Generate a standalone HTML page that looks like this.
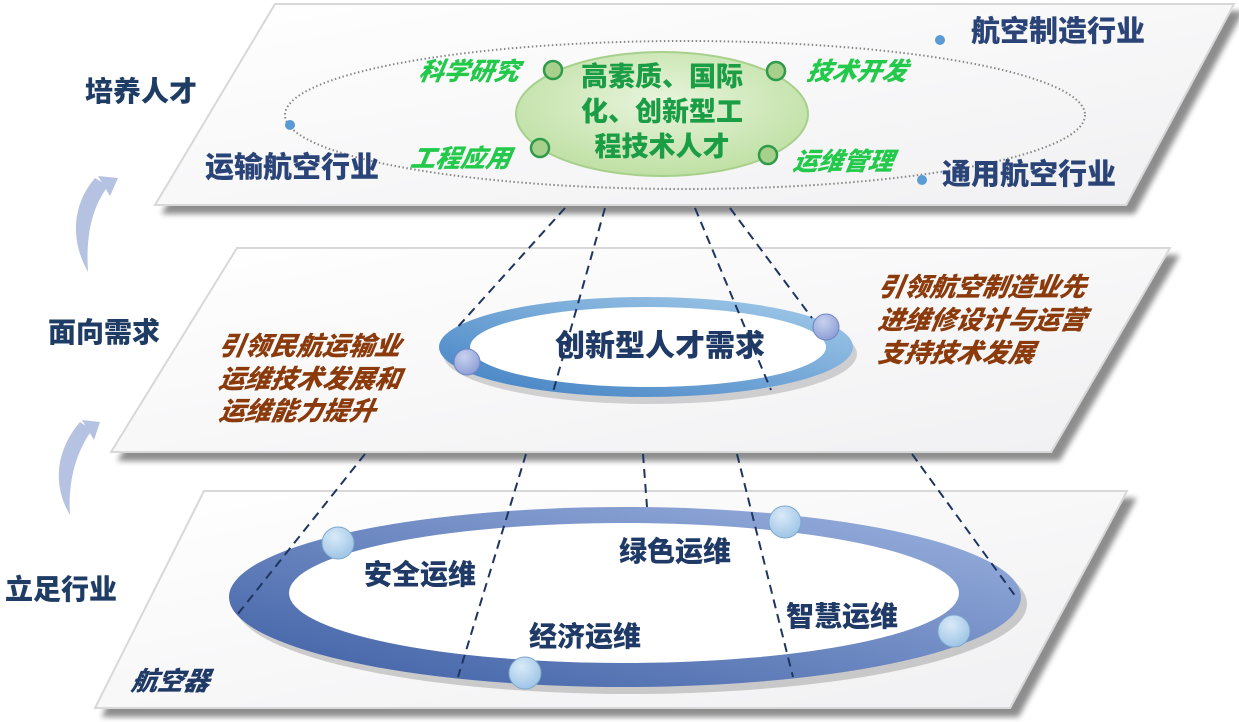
<!DOCTYPE html>
<html><head><meta charset="utf-8"><style>
html,body{margin:0;padding:0;background:#fff;}
body{width:1239px;height:722px;overflow:hidden;position:relative;}
svg{position:absolute;left:0;top:0;}
text{font-family:"Liberation Sans","Noto Sans CJK SC",sans-serif;font-weight:900;}
</style></head><body>
<svg width="1239" height="722" viewBox="0 0 1239 722">
<defs>
<filter id="sh" x="-5%" y="-5%" width="115%" height="125%"><feGaussianBlur in="SourceAlpha" stdDeviation="3"/><feOffset dx="8" dy="8"/><feComponentTransfer><feFuncA type="linear" slope="0.45"/></feComponentTransfer><feMerge><feMergeNode/><feMergeNode in="SourceGraphic"/></feMerge></filter>
<linearGradient id="pl" x1="0" y1="0" x2="1" y2="1"><stop offset="0" stop-color="#ffffff"/><stop offset="1" stop-color="#f0f0f2"/></linearGradient>
<linearGradient id="r1" x1="0" y1="1" x2="1" y2="0"><stop offset="0" stop-color="#3f7fc2"/><stop offset="1" stop-color="#a6cdeb"/></linearGradient>
<linearGradient id="r2" x1="0" y1="1" x2="1" y2="0"><stop offset="0" stop-color="#3d5ea3"/><stop offset="1" stop-color="#9db3e0"/></linearGradient>
<radialGradient id="gr" cx="0.5" cy="0.4" r="0.6"><stop offset="0" stop-color="#e8f4dc"/><stop offset="1" stop-color="#bfe0a4"/></radialGradient>
<radialGradient id="bd" cx="0.4" cy="0.3" r="0.7"><stop offset="0" stop-color="#d9eaf8"/><stop offset="1" stop-color="#9fc5e6"/></radialGradient>
<radialGradient id="bd2" cx="0.4" cy="0.3" r="0.7"><stop offset="0" stop-color="#c9d2ef"/><stop offset="1" stop-color="#8e9fd6"/></radialGradient>
</defs>
<path d="M88,272 C70,240 72,205 95,178 L108,186 C90,210 86,240 88,272 Z" fill="#b6c2e2"/>
<path d="M98,176 L118,178 L110,196 Z" fill="#b6c2e2"/>
<path d="M70,515 C52,485 56,450 80,422 L92,430 C74,455 68,485 70,515 Z" fill="#b6c2e2"/>
<path d="M82,420 L100,422 L94,440 Z" fill="#b6c2e2"/>
<polygon points="204,491 1127,491 1010,708 95,708" fill="url(#pl)" stroke="#d8d8d8" stroke-width="2" filter="url(#sh)"/>
<polygon points="237,248 1170,248 1051,452 111,452" fill="url(#pl)" stroke="#d8d8d8" stroke-width="2" filter="url(#sh)"/>
<polygon points="275,4 1234,4 1126,205 155,205" fill="url(#pl)" stroke="#d8d8d8" stroke-width="2" filter="url(#sh)"/>
<ellipse cx="685" cy="115" rx="400" ry="74" fill="none" stroke="#888" stroke-width="2" stroke-dasharray="1.5 2.5"/>
<circle cx="290" cy="125" r="5" fill="#5b9bd5"/><circle cx="940" cy="40" r="5" fill="#5b9bd5"/><circle cx="922" cy="180" r="5" fill="#5b9bd5"/>
<ellipse cx="662" cy="114" rx="146" ry="62" fill="url(#gr)" stroke="#a8d08d" stroke-width="2"/>
<g fill="#a8d08d" stroke="#2e9a4a" stroke-width="2.5"><circle cx="553" cy="70" r="9"/><circle cx="776" cy="71" r="9"/><circle cx="540" cy="148" r="9"/><circle cx="768" cy="155" r="9"/></g>
<g fill="#1a9d45" font-size="27" text-anchor="middle"><text x="662" y="86">高素质、国际</text><text x="662" y="121">化、创新型工</text><text x="662" y="156">程技术人才</text></g>
<g fill="#22c94a" font-size="25" font-style="italic"><text x="418" y="80" transform="skewX(-10) translate(14,0)">科学研究</text><text x="806" y="80" transform="skewX(-10) translate(14,0)">技术开发</text><text x="410" y="167" transform="skewX(-10) translate(29,0)">工程应用</text><text x="792" y="170" transform="skewX(-10) translate(30,0)">运维管理</text></g>
<g fill="#2b4478" font-size="29"><text x="971" y="41">航空制造行业</text><text x="205" y="177">运输航空行业</text><text x="942" y="184">通用航空行业</text></g>
<g fill="#1f3c64" font-size="28"><text x="85" y="101">培养人才</text><text x="48" y="342">面向需求</text><text x="5" y="599">立足行业</text></g>
<ellipse cx="646" cy="349" rx="207" ry="50" fill="#888" opacity="0.35" transform="translate(4,5)"/>
<ellipse cx="646" cy="347" rx="207" ry="50" fill="url(#r1)"/>
<ellipse cx="648" cy="347" rx="178" ry="40" fill="#fff"/>
<circle cx="467" cy="362" r="13" fill="url(#bd2)" stroke="#6d84c4"/><circle cx="826" cy="327" r="13" fill="url(#bd2)" stroke="#6d84c4"/>
<text x="660" y="356" fill="#1f3a66" font-size="30" text-anchor="middle">创新型人才需求</text>
<g fill="#8b3a0c" font-size="26" font-style="italic"><text x="218" y="355" transform="skewX(-10) translate(62,0)">引领民航运输业</text><text x="218" y="388" transform="skewX(-10) translate(68,0)">运维技术发展和</text><text x="218" y="420" transform="skewX(-10) translate(74,0)">运维能力提升</text>
<text x="877" y="296" transform="skewX(-10) translate(52,0)">引领航空制造业先</text><text x="877" y="329" transform="skewX(-10) translate(58,0)">进维修设计与运营</text><text x="877" y="362" transform="skewX(-10) translate(64,0)">支持技术发展</text></g>
<ellipse cx="627" cy="600" rx="396" ry="90" fill="#777" opacity="0.35" transform="translate(4,4)"/>
<ellipse cx="625" cy="597" rx="396" ry="90" fill="url(#r2)"/>
<ellipse cx="624" cy="593" rx="335" ry="70" fill="#fff"/>
<g fill="url(#bd)" stroke="#7aa6cc"><circle cx="338" cy="543" r="16"/><circle cx="785" cy="522" r="16"/><circle cx="954" cy="631" r="16"/><circle cx="525" cy="673" r="16"/></g>
<g fill="#1f3a66" font-size="28"><text x="364" y="584">安全运维</text><text x="619" y="561">绿色运维</text><text x="529" y="646">经济运维</text><text x="786" y="626">智慧运维</text></g>
<text x="130" y="690" fill="#1f3a66" font-size="26" font-style="italic" transform="skewX(-10) translate(122,0)">航空器</text>
<g stroke="#1f3560" stroke-width="2" stroke-dasharray="9 6" fill="none">
<line x1="565" y1="208" x2="455" y2="330"/><line x1="605" y1="208" x2="553" y2="392"/><line x1="695" y1="208" x2="771" y2="390"/><line x1="730" y1="208" x2="812" y2="318"/>
<line x1="365" y1="454" x2="237" y2="615"/><line x1="526" y1="454" x2="458" y2="677"/><line x1="643" y1="454" x2="647" y2="507"/><line x1="737" y1="454" x2="793" y2="677"/><line x1="912" y1="454" x2="1016" y2="597"/>
</g>
</svg>
</body></html>
